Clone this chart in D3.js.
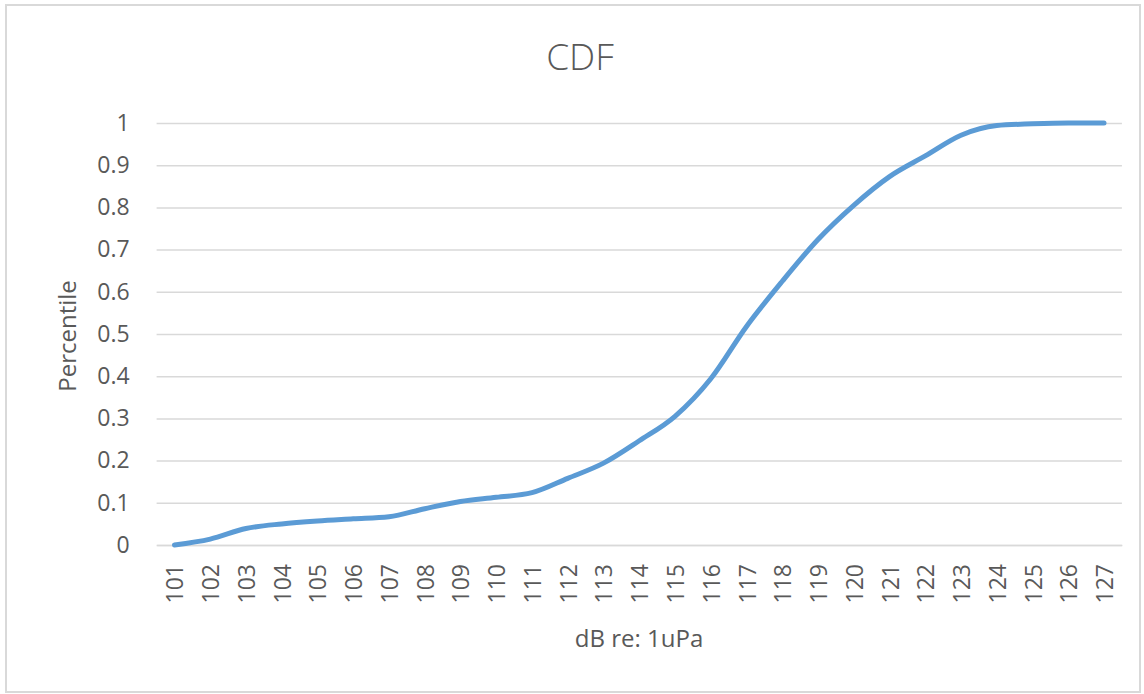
<!DOCTYPE html>
<html>
<head>
<meta charset="utf-8">
<script src="https://cdn.jsdelivr.net/npm/d3@7"></script>
<style>
  html, body { margin: 0; padding: 0; background: #ffffff; }
  svg { display: block; }
  text { font-family: "Open Sans", "Noto Sans", "DejaVu Sans", sans-serif; fill: #595959; }
</style>
</head>
<body>
<svg id="chart" width="1144" height="694"></svg>
<script>
// Sound level bins (dB re: 1uPa) and cumulative fraction at each bin
const levels = [101, 102, 103, 104, 105, 106, 107, 108, 109, 110, 111, 112, 113, 114,
                115, 116, 117, 118, 119, 120, 121, 122, 123, 124, 125, 126, 127];
const cdfValues = [0, 0.014, 0.039, 0.05, 0.057, 0.062, 0.067, 0.086, 0.103, 0.113, 0.124,
                   0.158, 0.194, 0.247, 0.305, 0.394, 0.518, 0.625, 0.724, 0.805, 0.873,
                   0.922, 0.971, 0.994, 0.998, 1, 1];
const yTicks = [0, 0.1, 0.2, 0.3, 0.4, 0.5, 0.6, 0.7, 0.8, 0.9, 1];
const yTickLabels = ["0", "0.1", "0.2", "0.3", "0.4", "0.5", "0.6", "0.7", "0.8", "0.9", "1"];

const chartTitle = "CDF";
const xTitle = "dB re: 1uPa";
const yTitle = "Percentile";

const svg = d3.select("#chart");

// Outer chart frame
svg.append("rect")
  .attr("x", 6).attr("y", 5)
  .attr("width", 1134).attr("height", 687)
  .attr("fill", "#ffffff")
  .attr("stroke", "#d9d9d9")
  .attr("stroke-width", 2);

const plot = { left: 156.6, right: 1121.9, top: 123, bottom: 545 };

const x = d3.scaleBand()
  .domain(levels)
  .range([plot.left, plot.right]);

const y = d3.scaleLinear()
  .domain([0, 1])
  .range([plot.bottom, plot.top]);

// Horizontal gridlines with tick labels
const yAxis = d3.axisLeft(y)
  .tickValues(yTicks)
  .tickFormat((d, i) => yTickLabels[i])
  .tickSize(-(plot.right - plot.left))
  .tickPadding(27);

const gy = svg.append("g")
  .attr("transform", `translate(${plot.left},0)`)
  .call(yAxis);
gy.select(".domain").remove();
gy.selectAll(".tick line")
  .attr("stroke", "#d9d9d9")
  .attr("stroke-width", 1.5);
gy.selectAll(".tick text")
  .style("font-size", "23px")
  .attr("fill", "#595959");

// Category axis along the bottom
const xAxis = d3.axisBottom(x).tickSize(0).tickPadding(0);
const gx = svg.append("g")
  .attr("transform", `translate(0,${plot.bottom})`)
  .call(xAxis);
gx.select(".domain")
  .attr("stroke", "#d9d9d9")
  .attr("stroke-width", 1.5);
gx.selectAll(".tick text")
  .style("font-size", "23px")
  .attr("fill", "#595959")
  .attr("text-anchor", "end")
  .attr("dy", null)
  .attr("y", 0)
  .attr("dominant-baseline", "central")
  .attr("transform", "translate(0,19) rotate(-90)");

// CDF curve
const line = d3.line()
  .x((d, i) => x(levels[i]) + x.bandwidth() / 2)
  .y(d => y(d))
  .curve(d3.curveMonotoneX);

svg.append("path")
  .datum(cdfValues)
  .attr("d", line)
  .attr("fill", "none")
  .attr("stroke", "#5b9bd5")
  .attr("stroke-width", 5)
  .attr("stroke-linecap", "round")
  .attr("stroke-linejoin", "round");

// Titles
svg.append("text")
  .attr("x", 580).attr("y", 70)
  .attr("text-anchor", "middle")
  .style("font-size", "37px")
  .style("font-weight", 300)
  .text(chartTitle);

svg.append("text")
  .attr("x", 639).attr("y", 647)
  .attr("text-anchor", "middle")
  .style("font-size", "24px")
  .text(xTitle);

svg.append("text")
  .attr("transform", "translate(76,336) rotate(-90)")
  .attr("text-anchor", "middle")
  .style("font-size", "24px")
  .text(yTitle);
</script>
</body>
</html>
